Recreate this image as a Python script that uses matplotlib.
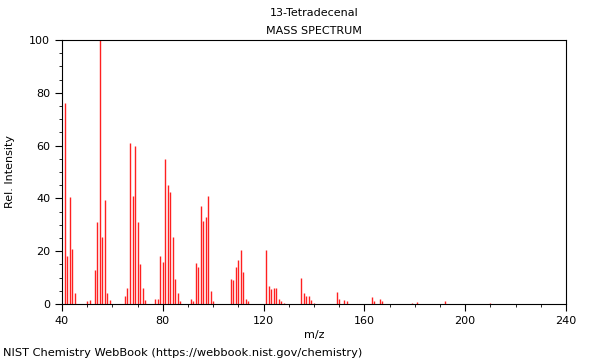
import matplotlib
matplotlib.use('Agg')
import matplotlib.pyplot as plt
from matplotlib.ticker import MultipleLocator

# m/z values and relative intensities
mz = [41, 42, 43, 44, 45, 50, 51, 53, 54, 55, 56, 57, 58, 59,
      65, 66, 67, 68, 69, 70, 71, 72, 73, 77, 78, 79, 80, 81, 82, 83, 84, 85, 86, 87,
      91, 92, 93, 94, 95, 96, 97, 98, 99, 100,
      107, 108, 109, 110, 111, 112, 113, 114,
      121, 122, 123, 124, 125, 126, 127, 128,
      135, 136, 137, 138, 139, 140,
      149, 150, 152, 153, 163, 164, 166, 167, 179, 181, 192, 210]
intensity = [76, 18, 40.5, 21, 4, 1, 1.5, 13, 31, 100, 25.5, 39.5, 4, 1.5,
             3, 6, 61, 41, 60, 31, 15, 6, 1.5, 2, 2, 18, 16, 55, 45, 42.5, 25.5, 9.5, 4, 1,
             2, 1, 15.5, 14, 37, 31.5, 33, 41, 5, 1,
             9.5, 9, 14, 16.5, 20.5, 12, 2, 1,
             20.5, 7, 5.5, 6, 6, 2, 1, 0.5,
             10, 4, 3, 3, 1.5, 0.5,
             4.5, 2, 1.5, 1, 2.5, 1, 2, 1, 0.5, 0.8, 1, 0.3]

title1 = '13-Tetradecenal'
title2 = 'MASS SPECTRUM'
footer = 'NIST Chemistry WebBook (https://webbook.nist.gov/chemistry)'

fig = plt.figure(figsize=(6, 3.6), dpi=100)
ax = fig.add_axes([0.1033, 0.1556, 0.84, 0.7333])

ax.vlines(mz, 0, intensity, colors='#ff2020', linewidth=1)

ax.set_xlim(40, 240)
ax.set_ylim(0, 100)
ax.xaxis.set_major_locator(MultipleLocator(40))
ax.xaxis.set_minor_locator(MultipleLocator(10))
ax.yaxis.set_major_locator(MultipleLocator(20))
ax.yaxis.set_minor_locator(MultipleLocator(5))
ax.tick_params(which='major', length=5, width=0.8, labelsize=8)
ax.tick_params(which='minor', length=2.5, width=0.6)
for s in ax.spines.values():
    s.set_linewidth(0.8)

ax.set_xlabel('m/z', fontsize=8, labelpad=3)
ax.set_ylabel('Rel. Intensity', fontsize=8, labelpad=10)

fig.text(0.523, 0.963, title1, ha='center', va='center', fontsize=8)
fig.text(0.523, 0.915, title2, ha='center', va='center', fontsize=8)
fig.text(0.005, 0.02, footer, ha='left', va='center', fontsize=8.2)

fig.savefig('out.png', dpi=100)
